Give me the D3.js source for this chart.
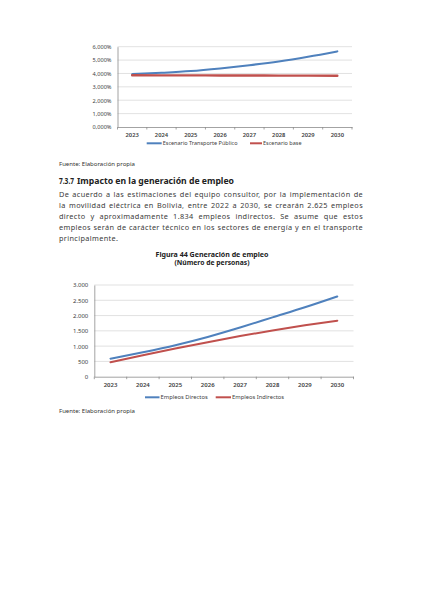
<!DOCTYPE html>
<html><head><meta charset="utf-8">
<script src="https://cdn.jsdelivr.net/npm/d3@7"></script>
<style>html,body{margin:0;padding:0;background:#fff;}svg{display:block;}</style>
</head><body>
<script>
// ---------- data ----------
const years = ["2023","2024","2025","2026","2027","2028","2029","2030"];
const transportePublico = [3.95, 4.05, 4.18, 4.38, 4.62, 4.90, 5.25, 5.65];
const escenarioBase = [3.87, 3.86, 3.86, 3.85, 3.85, 3.84, 3.84, 3.83];
const pctTicks = [0,1,2,3,4,5,6];
const pctTickLabels = ["0,000%","1,000%","2,000%","3,000%","4,000%","5,000%","6,000%"];
const empleosDirectos = [590, 800, 1030, 1300, 1610, 1940, 2270, 2625];
const empleosIndirectos = [470, 700, 920, 1130, 1330, 1510, 1680, 1834];
const empTicks = [0,500,1000,1500,2000,2500,3000];
const empTickLabels = ["0","500","1.000","1.500","2.000","2.500","3.000"];
const legend1 = ["Escenario Transporte Público","Escenario base"];
const legend2 = ["Empleos Directos","Empleos Indirectos"];
const fuente = "Fuente: Elaboración propia";
const headingNum = "7.3.7";
const headingText = "Impacto en la generación de empleo";
const paragraph = [
 "De acuerdo a las estimaciones del equipo consultor, por la implementación de",
 "la movilidad eléctrica en Bolivia, entre 2022 a 2030, se crearán 2.625 empleos",
 "directo y aproximadamente 1.834 empleos indirectos. Se asume que estos",
 "empleos serán de carácter técnico en los sectores de energía y en el transporte",
 "principalmente."
];
const figTitle = ["Figura 44 Generación de empleo","(Número de personas)"];

// ---------- drawing ----------
const W = 424, H = 600;
const FONT = "'Noto Sans', 'Open Sans', sans-serif";
const BLUE = "#4F81BD", RED = "#C0504D", GRID = "#D9D9D9", AXIS = "#8C8C8C", TXT = "#404040";
const svg = d3.select("body").append("svg").attr("width", W).attr("height", H)
  .style("font-family", FONT);

function lineChart(cfg) {
  const x = d3.scaleBand().domain(years).range(cfg.xr);
  const y = d3.scaleLinear().domain(cfg.yd).range(cfg.yr);
  const g = svg.append("g");
  g.append("g").selectAll("line").data(cfg.ticks.slice(1)).join("line")
    .attr("x1", cfg.xr[0]).attr("x2", cfg.xr[1])
    .attr("y1", d => y(d)).attr("y2", d => y(d))
    .attr("stroke", GRID).attr("stroke-width", 0.8);
  const ya = d3.axisLeft(y).tickValues(cfg.ticks).tickSize(0).tickPadding(6)
    .tickFormat((d,i) => cfg.tickLabels[i]);
  const yg = g.append("g").attr("transform", `translate(${cfg.xr[0]},0)`).call(ya);
  yg.select(".domain").attr("stroke", AXIS).attr("stroke-width", 0.8);
  yg.selectAll("text").attr("font-size", cfg.yfs).attr("fill", TXT).attr("font-family", FONT);
  const xa = d3.axisBottom(x).tickSize(0).tickPadding(cfg.xpad);
  const xg = g.append("g").attr("transform", `translate(0,${cfg.yr[0]})`).call(xa);
  xg.select(".domain").attr("stroke", AXIS).attr("stroke-width", 0.8);
  xg.selectAll("text").attr("font-size", cfg.xfs).attr("fill", TXT).attr("font-weight", "600").attr("font-family", FONT);
  g.append("g").selectAll("line").data(years.concat(["end"])).join("line")
    .attr("x1", (d,i) => cfg.xr[0] + i * x.step()).attr("x2", (d,i) => cfg.xr[0] + i * x.step())
    .attr("y1", cfg.yr[0]).attr("y2", cfg.yr[0] + 2.5)
    .attr("stroke", AXIS).attr("stroke-width", 0.8);
  const line = d3.line().x((d,i) => x(years[i]) + x.bandwidth()/2).y(d => y(d)).curve(d3.curveMonotoneX);
  cfg.series.forEach(s => {
    g.append("path").datum(s.values).attr("d", line)
      .attr("fill", "none").attr("stroke", s.color).attr("stroke-width", s.width)
      .attr("stroke-linecap", "round");
  });
  cfg.series.forEach(s => {
    g.append("line").attr("x1", s.lx).attr("x2", s.lx + s.ll)
      .attr("y1", cfg.ly).attr("y2", cfg.ly).attr("stroke", s.color).attr("stroke-width", 2);
    g.append("text").attr("x", s.lx + s.ll + 1).attr("y", cfg.ly).attr("dy", "0.35em")
      .attr("font-size", cfg.lfs).attr("fill", TXT).text(s.name);
  });
}

lineChart({
  xr: [117.5, 352], yd: [0, 6], yr: [127, 46.7],
  ticks: pctTicks, tickLabels: pctTickLabels, yfs: 5.6, xfs: 5.8, xpad: 6, lfs: 5.5, ly: 143.3,
  series: [
    {name: legend1[0], values: transportePublico, color: BLUE, width: 2, lx: 146.7, ll: 15},
    {name: legend1[1], values: escenarioBase, color: RED, width: 2.4, lx: 250, ll: 12}
  ]
});

lineChart({
  xr: [94.3, 353.5], yd: [0, 3000], yr: [376.7, 285],
  ticks: empTicks, tickLabels: empTickLabels, yfs: 6, xfs: 6, xpad: 6, lfs: 5.8, ly: 397.3,
  series: [
    {name: legend2[0], values: empleosDirectos, color: BLUE, width: 2, lx: 145, ll: 14.5},
    {name: legend2[1], values: empleosIndirectos, color: RED, width: 2, lx: 215.7, ll: 15.3}
  ]
});

// ---------- document text ----------
const LEFT = 59, RIGHT = 363;
function fitText(sel, len) {
  const w = sel.node().getComputedTextLength();
  if (w > 0) sel.attr("textLength", len).attr("lengthAdjust", "spacingAndGlyphs");
}
[166, 413].forEach(yb => {
  const t = svg.append("text").attr("x", LEFT).attr("y", yb).attr("font-size", 5.6).attr("fill", "#333").text(fuente);
  fitText(t, 76);
});

const h1 = svg.append("text").attr("x", LEFT).attr("y", 183.5).attr("font-size", 8.2).attr("font-weight", "bold").attr("fill", "#222").text(headingNum);
fitText(h1, 15);
const h2 = svg.append("text").attr("x", 77).attr("y", 183.5).attr("font-size", 8.2).attr("font-weight", "bold").attr("fill", "#222").text(headingText);
fitText(h2, 157);

// justified paragraph: fixed size, letter-spacing chosen so the widest line fits
const PFS = 7.3;
const meas = svg.append("text").attr("font-size", PFS).attr("visibility", "hidden");
function wlen(w) { meas.text(w); return meas.node().getComputedTextLength(); }
let worst = 0, worstChars = 1;
paragraph.slice(0, -1).forEach(l => {
  const w = wlen(l);
  if (w > worst) { worst = w; worstChars = l.length; }
});
const LS = Math.max(0, ((RIGHT - LEFT) * 0.985 - worst) / worstChars);
meas.attr("letter-spacing", LS);
paragraph.forEach((ln, li) => {
  const yb = 197.3 + li * 11;
  const words = ln.split(" ");
  const widths = words.map(wlen);
  const total = d3.sum(widths);
  const last = li === paragraph.length - 1;
  const gap = last ? wlen("a a") - 2 * wlen("a") : (RIGHT - LEFT - total) / (words.length - 1);
  let cx = LEFT;
  const t = svg.append("text").attr("y", yb).attr("font-size", PFS).attr("fill", "#3a3a3a")
    .attr("letter-spacing", LS);
  words.forEach((w, i) => {
    t.append("tspan").attr("x", cx).text(w);
    cx += widths[i] + gap;
  });
});
meas.remove();

figTitle.forEach((s, i) => {
  const t = svg.append("text").attr("x", 212).attr("y", 256.8 + i * 8.6).attr("text-anchor", "middle")
    .attr("font-size", 6.8).attr("font-weight", "bold").attr("fill", "#222").text(s);
  fitText(t, i === 0 ? 113 : 75);
});
</script>
</body></html>
